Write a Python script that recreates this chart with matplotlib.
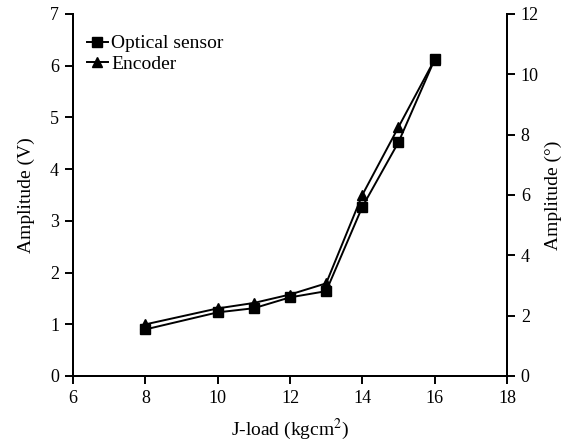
import matplotlib
matplotlib.use("Agg")
import matplotlib.pyplot as plt

plt.rcParams['font.family'] = ['Liberation Serif', 'DejaVu Serif']
plt.rcParams['mathtext.fontset'] = 'stix'
plt.rcParams['font.size'] = 13

# data
j_load = [8, 10, 11, 12, 13, 14, 15, 16]
optical_v = [0.90, 1.23, 1.31, 1.52, 1.64, 3.27, 4.52, 6.12]
encoder_deg = [1.71, 2.24, 2.42, 2.70, 3.07, 6.00, 8.25, 10.49]

x_ticks = [6, 8, 10, 12, 14, 16, 18]

fig = plt.figure(figsize=(5.64, 4.46), dpi=100)
ax = fig.add_axes([0.1294, 0.157, 0.7695, 0.8117])
ax2 = ax.twinx()

l1, = ax.plot(j_load, optical_v, color='black', lw=1.4, marker='s', ms=7.5,
              label='Optical sensor')
l2, = ax2.plot(j_load, encoder_deg, color='black', lw=1.4, marker='^', ms=7.5,
               label='Encoder')

ax.set_xlim(6, 18)
ax.set_ylim(0, 7)
ax2.set_ylim(0, 12)
ax.set_xticks(x_ticks)
ax.set_yticks(range(0, 8))
ax2.set_yticks(range(0, 13, 2))

for a in (ax, ax2):
    a.spines['top'].set_visible(False)
    for s in a.spines.values():
        s.set_linewidth(1.4)
    a.tick_params(direction='out', width=1.4, length=6, labelsize=13, pad=4)

ax.set_xlabel('J-load (kgcm$^2$)', fontsize=14, labelpad=7)
ax.set_ylabel('Amplitude (V)', fontsize=14, labelpad=11)
ax2.set_ylabel('Amplitude (°)', fontsize=14, labelpad=4)

ax.legend(handles=[l1, l2], loc='upper left', bbox_to_anchor=(0.0, 0.98),
          frameon=False, handlelength=1.1, handletextpad=0.15,
          labelspacing=0.15, borderaxespad=0.3, fontsize=14)

fig.savefig('out.png', dpi=100)
